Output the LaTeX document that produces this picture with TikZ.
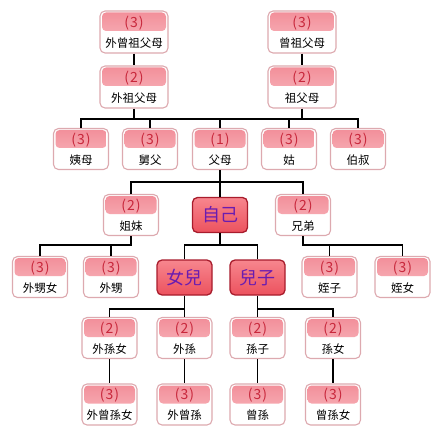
\documentclass[tikz,border=0pt]{standalone}
\usepackage{fontspec}
\usepackage{tikz}
\usetikzlibrary{positioning}
\newfontfamily\cjk{Noto Sans CJK TC}
\definecolor{numred}{HTML}{C8283C}
\definecolor{boxline}{HTML}{DDA9AF}
\definecolor{bandtop}{HTML}{F28E99}
\definecolor{bandbot}{HTML}{FAC0C5}
\definecolor{merim}{HTML}{A81C2C}
\definecolor{metop}{HTML}{F7868E}
\definecolor{mebot}{HTML}{EC525E}
\definecolor{mename}{HTML}{6A1CB0}
\newcommand\kn[2]{\textcolor{numred}{\fontsize{14}{20}\selectfont(\kern1pt#1\kern1pt)}\\#2}
\tikzset{
  kin/.style={draw=boxline,line width=1.1pt,fill=white,rounded corners=5pt,
    minimum width=55pt,minimum height=41pt,inner sep=0pt,align=center,
    font=\cjk\fontsize{11.5}{20}\selectfont,
    path picture={\fill[top color=bandtop,bottom color=bandbot,rounded corners=4pt]
      ([shift={(2pt,-1.5pt)}]path picture bounding box.north west) rectangle
      ([shift={(-2pt,1pt)}]path picture bounding box.east);}},
  kin wide/.style={kin,minimum width=68pt,minimum height=42pt},
  me/.style={draw=merim,line width=1.3pt,top color=metop,bottom color=mebot,
    rounded corners=5pt,minimum width=55pt,minimum height=35pt,inner sep=0pt,
    text=mename,font=\cjk\fontsize{18}{18}\selectfont},
  tie/.style={line width=1.2pt}
}

\begin{document}
\begin{tikzpicture}[x=1pt,y=-1pt,on grid]
   \useasboundingbox (0,0) rectangle (440,446);
   % grandparents
   \node[kin wide] (ggp_m) at (134,32) {\kn{3}{外曾祖父母}};
   \node[kin wide] (ggp_p) [right=168pt of ggp_m] {\kn{3}{曾祖父母}};
   \node[kin wide] (gp_m) [below=55pt of ggp_m] {\kn{2}{外祖父母}};
   \node[kin wide] (gp_p) [below=55pt of ggp_p] {\kn{2}{祖父母}};
   % parents
   \node[kin] (par) at (220,149) {\kn{1}{父母}};
   \node[kin] (uncle_m) [left=70pt of par] {\kn{3}{舅父}};
   \node[kin] (aunt_m) [left=69pt of uncle_m] {\kn{3}{姨母}};
   \node[kin] (aunt_p) [right=69pt of par] {\kn{3}{姑}};
   \node[kin] (uncle_p) [right=69pt of aunt_p] {\kn{3}{伯叔}};
   % self
   \node[me] (self) [below=66pt of par] {自己};
   \node[kin] (sis) [left=89pt of self] {\kn{2}{姐妹}};
   \node[kin] (bro) [right=83pt of self] {\kn{2}{兄弟}};
   % children
   \node[me] (dau) at (184.5,277.5) {女兒};
   \node[me] (son) [right=73pt of dau] {兒子};
   \node[kin] (nephew_s) at (111,277) {\kn{3}{外甥}};
   \node[kin] (niece_s) [left=71pt of nephew_s] {\kn{3}{外甥女}};
   \node[kin] (nephew_b) at (329.5,277) {\kn{3}{姪子}};
   \node[kin] (niece_b) [right=73pt of nephew_b] {\kn{3}{姪女}};
   % grandchildren
   \node[kin] (gs_d) at (184.5,338) {\kn{2}{外孫}};
   \node[kin] (gd_d) [left=75pt of gs_d] {\kn{2}{外孫女}};
   \node[kin] (gs_s) at (257.5,338) {\kn{2}{孫子}};
   \node[kin] (gd_s) [right=75.5pt of gs_s] {\kn{2}{孫女}};
   \node[kin] (ggd_d) [below=66.5pt of gd_d] {\kn{3}{外曾孫女}};
   \node[kin] (ggs_d) [below=66.5pt of gs_d] {\kn{3}{外曾孫}};
   \node[kin] (ggs_s) [below=66.5pt of gs_s] {\kn{3}{曾孫}};
   \node[kin] (ggd_s) [below=66.5pt of gd_s] {\kn{3}{曾孫女}};

   \coordinate (bar_1) at (0,119);
   \coordinate (bar_2) at (0,182);
   \coordinate (bar_3) at (0,245);
   \coordinate (bar_4) at (0,309);

   \draw[tie] (ggp_m) -- (gp_m);
   \draw[tie] (ggp_p) -- (gp_p);
   \draw[tie] (aunt_m.north) |- (uncle_p.north |- bar_1) -- (uncle_p.north);
   \foreach \n in {uncle_m,par,aunt_p}
      \draw[tie] (\n.north) -- (\n.north |- bar_1);
   \foreach \n in {gp_m,gp_p}
      \draw[tie] (\n.south) -- (\n.south |- bar_1);
   \draw[tie] (sis.north) |- (bro.north |- bar_2) -- (bro.north);
   \draw[tie] (par) -- (self);
   \draw[tie] (sis.south) |- (niece_s.north |- bar_3) -- (niece_s.north);
   \draw[tie] (nephew_s.north) -- (nephew_s.north |- bar_3);
   \draw[tie] (bro.south) |- (niece_b.north |- bar_3) -- (niece_b.north);
   \draw[tie] (nephew_b.north) -- (nephew_b.north |- bar_3);
   \draw[tie] (dau.north) |- (son.north |- bar_3) -- (son.north);
   \draw[tie] (self.south) -- (self.south |- bar_3);
   \draw[tie] (dau) -- (gs_d);
   \draw[tie] (gd_d.north) |- (dau.south |- bar_4);
   \draw[tie] (son) -- (gs_s);
   \draw[tie] (gd_s.north) |- (son.south |- bar_4);
   \foreach \a/\b in {gd_d/ggd_d,gs_d/ggs_d,gs_s/ggs_s,gd_s/ggd_s}
      \draw[tie] (\a) -- (\b);
\end{tikzpicture}
\end{document}
